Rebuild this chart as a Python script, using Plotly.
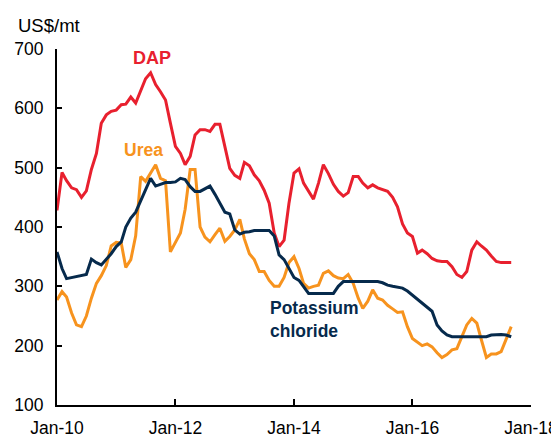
import pandas as pd
import plotly.graph_objects as go

months = pd.date_range("2010-01-01", periods=93, freq="MS")

dap = [428, 492, 478, 466, 463, 450, 461, 497, 524, 575,
       589, 595, 597, 606, 607, 619, 609, 630, 650, 660,
       640, 628, 614, 575, 536, 524, 505, 519, 555, 564,
       564, 561, 573, 573, 536, 499, 487, 482, 509, 503,
       488, 478, 462, 440, 390, 367, 378, 440, 491, 498,
       474, 460, 447, 474, 505, 490, 472, 460, 452, 458,
       485, 485, 474, 466, 471, 466, 463, 460, 450, 434,
       405, 390, 384, 356, 361, 355, 347, 343, 342, 342,
       333, 320, 315, 325, 361, 375, 368, 361, 351, 342,
       340, 340, 340]

urea = [277, 291, 282, 255, 235, 232, 250, 280, 305, 318,
        335, 368, 374, 373, 332, 345, 385, 485, 477, 490,
        505, 482, 478, 358, 375, 390, 430, 497, 497, 400,
        383, 375, 387, 398, 376, 384, 395, 413, 380, 355,
        345, 325, 325, 310, 300, 300, 315, 340, 350, 330,
        305, 297, 300, 302, 322, 326, 318, 314, 313, 320,
        305, 280, 263, 275, 294, 280, 277, 268, 262, 256,
        257, 232, 212, 205, 200, 203, 198, 188, 180, 185,
        193, 195, 215, 235, 246, 238, 210, 180, 186, 186,
        190, 210, 232]

potash = [358, 330, 313, 315, 316, 318, 320, 346, 340, 336,
          345, 355, 367, 375, 400, 415, 425, 445, 465, 482,
          469, 472, 475, 475, 476, 482, 480, 468, 460, 460,
          465, 469, 455, 440, 425, 422, 395, 388, 391, 392,
          394, 394, 394, 394, 385, 353, 345, 330, 315, 310,
          300, 288, 288, 288, 288, 288, 288, 300, 308, 308,
          308, 308, 308, 308, 308, 308, 306, 302, 300, 298,
          297, 292, 285, 278, 272, 266, 258, 235, 225, 218,
          215, 215, 215, 215, 215, 215, 215, 215, 218, 219,
          219, 218, 215]

tick_vals = ["2010-01-01", "2012-01-01", "2014-01-01", "2016-01-01", "2018-01-01"]
tick_text = ["Jan-10", "Jan-12", "Jan-14", "Jan-16", "Jan-18"]

RED = "#E8202E"
ORANGE = "#F7931E"
NAVY = "#062A4C"
FONT = "Arial, Liberation Sans, sans-serif"

fig = go.Figure()
fig.add_trace(go.Scatter(x=months, y=dap, mode="lines", line=dict(color=RED, width=3), name="DAP"))
fig.add_trace(go.Scatter(x=months, y=urea, mode="lines", line=dict(color=ORANGE, width=3), name="Urea"))
fig.add_trace(go.Scatter(x=months, y=potash, mode="lines", line=dict(color=NAVY, width=3), name="Potassium chloride"))

# page body has an 8px default margin, so the figure is 8px smaller and shifted
fig.update_layout(
    width=551, height=430,
    margin=dict(l=49, r=28, t=41, b=33),
    paper_bgcolor="white", plot_bgcolor="white",
    showlegend=False,
    font=dict(family=FONT, size=17.5, color="black"),
    xaxis=dict(
        range=["2010-01-01", "2018-01-01"],
        tickvals=tick_vals, ticktext=tick_text,
        showgrid=False, zeroline=False, automargin=False,
        showline=True, linecolor="black", linewidth=2,
        ticks="inside", ticklen=6, tickwidth=2, tickcolor="black",
        ticklabelstandoff=6,
    ),
    yaxis=dict(
        range=[100, 700], dtick=100,
        showgrid=False, zeroline=False, automargin=False,
        showline=True, linecolor="black", linewidth=2,
        ticks="inside", ticklen=5, tickwidth=2, tickcolor="black",
        ticklabelstandoff=8,
    ),
    annotations=[
        dict(text="US$/mt", xref="paper", yref="paper", x=-0.086, y=1.067,
             xanchor="left", yanchor="middle", showarrow=False,
             font=dict(size=18.5, color="black")),
        dict(text="<b>DAP</b>", xref="paper", yref="paper", x=0.2004, y=0.976,
             xanchor="center", yanchor="middle", showarrow=False,
             font=dict(size=18, color=RED)),
        dict(text="<b>Urea</b>", xref="paper", yref="paper", x=0.183, y=0.716,
             xanchor="center", yanchor="middle", showarrow=False,
             font=dict(size=17.5, color=ORANGE)),
        dict(text="<b>Potassium</b><br><b>chloride</b>", xref="paper", yref="paper",
             x=0.445, y=0.239, xanchor="left", yanchor="middle", align="left",
             showarrow=False, font=dict(size=17.5, color=NAVY)),
    ],
)

fig.write_html("out.html")
